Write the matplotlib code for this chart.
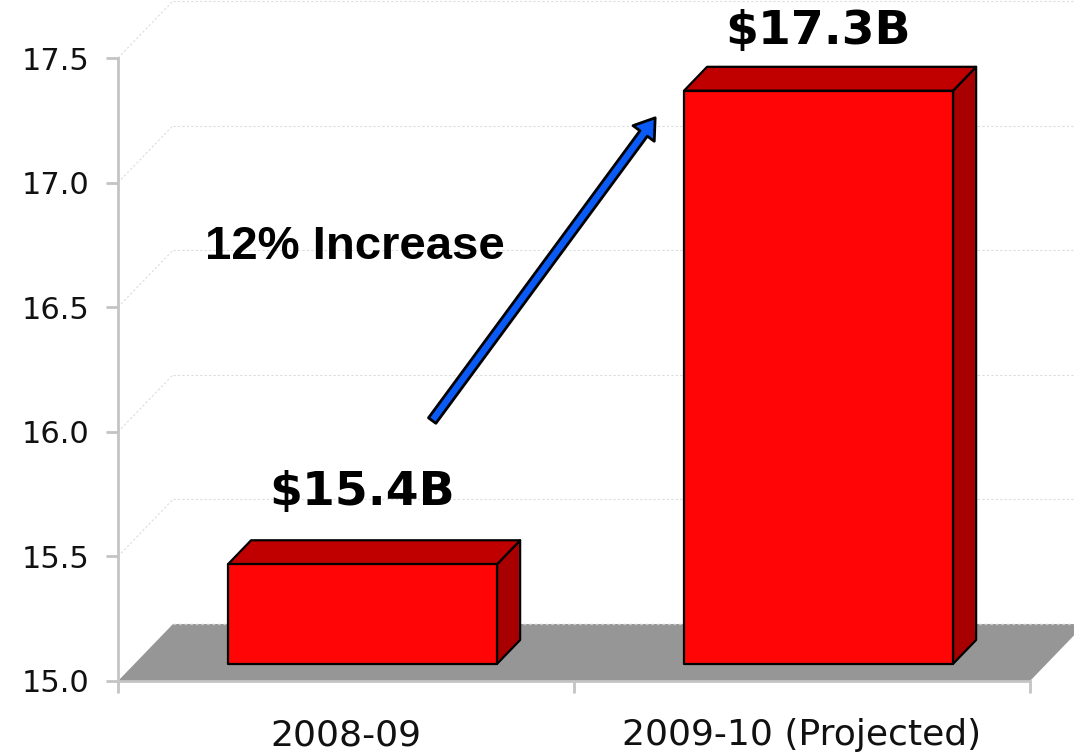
import numpy as np
import matplotlib
matplotlib.use('Agg')
import matplotlib.pyplot as plt
from matplotlib.patches import Polygon

# Revenue by fiscal year, $ billions
categories = ['2008-09', '2009-10 (Projected)']
values = [15.4, 17.3]
value_labels = ['$15.4B', '$17.3B']
label_offsets = [18, 9]   # points above the bar top
y_ticks = [15.0, 15.5, 16.0, 16.5, 17.0, 17.5]
note = '12% Increase'

W, H = 1074, 756
fig = plt.figure(figsize=(W / 100, H / 100), dpi=100)
ax = fig.add_axes([118 / W, (H - 681) / H, (1030 - 118) / W, (681 - 58) / H])
ax.set_xlim(0, 2)
ax.set_ylim(15.0, 17.5)

# 3d depth vector of the floor, in data units
dx, dy = 55 / 456, 57 / 249.2
f0, f1 = 0.30, 0.72   # bar front / back as fraction of floor depth
bw = 0.59
base = 15.0

grid_c = '#dcdcdc'
for t in y_ticks[1:]:
    ax.plot([0, dx], [t, t + dy], color=grid_c, lw=0.8, ls=(0, (2, 2)), clip_on=False, zorder=1)
    ax.plot([dx, 2 + dx], [t + dy, t + dy], color=grid_c, lw=0.8, ls=(0, (2, 2)), clip_on=False, zorder=1)

# floor
floor = Polygon([(0, base), (2, base), (2 + dx, base + dy), (dx, base + dy)],
                closed=True, fc='#969696', ec='none', clip_on=False, zorder=2)
ax.add_patch(floor)
ax.plot([dx, 2 + dx], [base + dy, base + dy], color='#c8c8c8', lw=1, ls=(0, (2, 2)), clip_on=False, zorder=2)

d = f1 - f0
for i, v in enumerate(values):
    c = i + 0.5
    x0 = c - bw / 2 + f0 * dx
    x1 = c + bw / 2 + f0 * dx
    y0 = base + f0 * dy
    y1 = v + f0 * dy
    front = [(x0, y0), (x1, y0), (x1, y1), (x0, y1)]
    top = [(x0, y1), (x1, y1), (x1 + d * dx, y1 + d * dy), (x0 + d * dx, y1 + d * dy)]
    side = [(x1, y0), (x1 + d * dx, y0 + d * dy), (x1 + d * dx, y1 + d * dy), (x1, y1)]
    for pts, col in [(side, '#a80000'), (top, '#c00000'), (front, '#ff0505')]:
        ax.add_patch(Polygon(pts, closed=True, fc=col, ec='black', lw=1.6,
                             joinstyle='round', clip_on=False, zorder=3))
    ax.annotate(value_labels[i], xy=(c + f0 * dx, y1 + d * dy),
                xytext=(0, label_offsets[i]), textcoords='offset points', ha='center', va='bottom',
                fontsize=34, fontweight='bold', family='DejaVu Sans',
                annotation_clip=False, zorder=5)

# growth arrow between the bars
ax.annotate('', xy=(1.178, 17.26), xytext=(0.689, 16.045),
            arrowprops=dict(arrowstyle='simple,head_length=0.7,head_width=0.95,tail_width=0.33',
                            mutation_scale=20, fc='#0a5af5', ec='black', lw=2,
                            shrinkA=0, shrinkB=0),
            annotation_clip=False, zorder=4)
ax.text(0.52, 16.74, note, ha='center', va='center', fontsize=34,
        fontweight='bold', family='Liberation Sans', zorder=5)

# axes styling
for s in ['top', 'right']:
    ax.spines[s].set_visible(False)
for s in ['left', 'bottom']:
    ax.spines[s].set_color('#c4c4c4')
    ax.spines[s].set_linewidth(2)
    ax.spines[s].set_zorder(2.5)

ax.set_yticks(y_ticks)
ax.set_yticklabels([f'{t:.1f}' for t in y_ticks])
ax.set_xticks([0, 1, 2])
ax.set_xticklabels([])
ax.set_xticks([0.5, 1.5], minor=True)
ax.set_xticklabels(categories, minor=True)
ax.tick_params(axis='both', which='major', color='#c4c4c4', width=2, length=8.5,
               labelsize=22, labelcolor='#111111', pad=12)
ax.tick_params(axis='x', which='minor', length=0, labelsize=26, labelcolor='#111111', pad=27)
for lab in ax.get_yticklabels() + ax.get_xticklabels(minor=True):
    lab.set_family('DejaVu Sans')

ax.patch.set_alpha(0)
fig.savefig('out.png', dpi=100)
